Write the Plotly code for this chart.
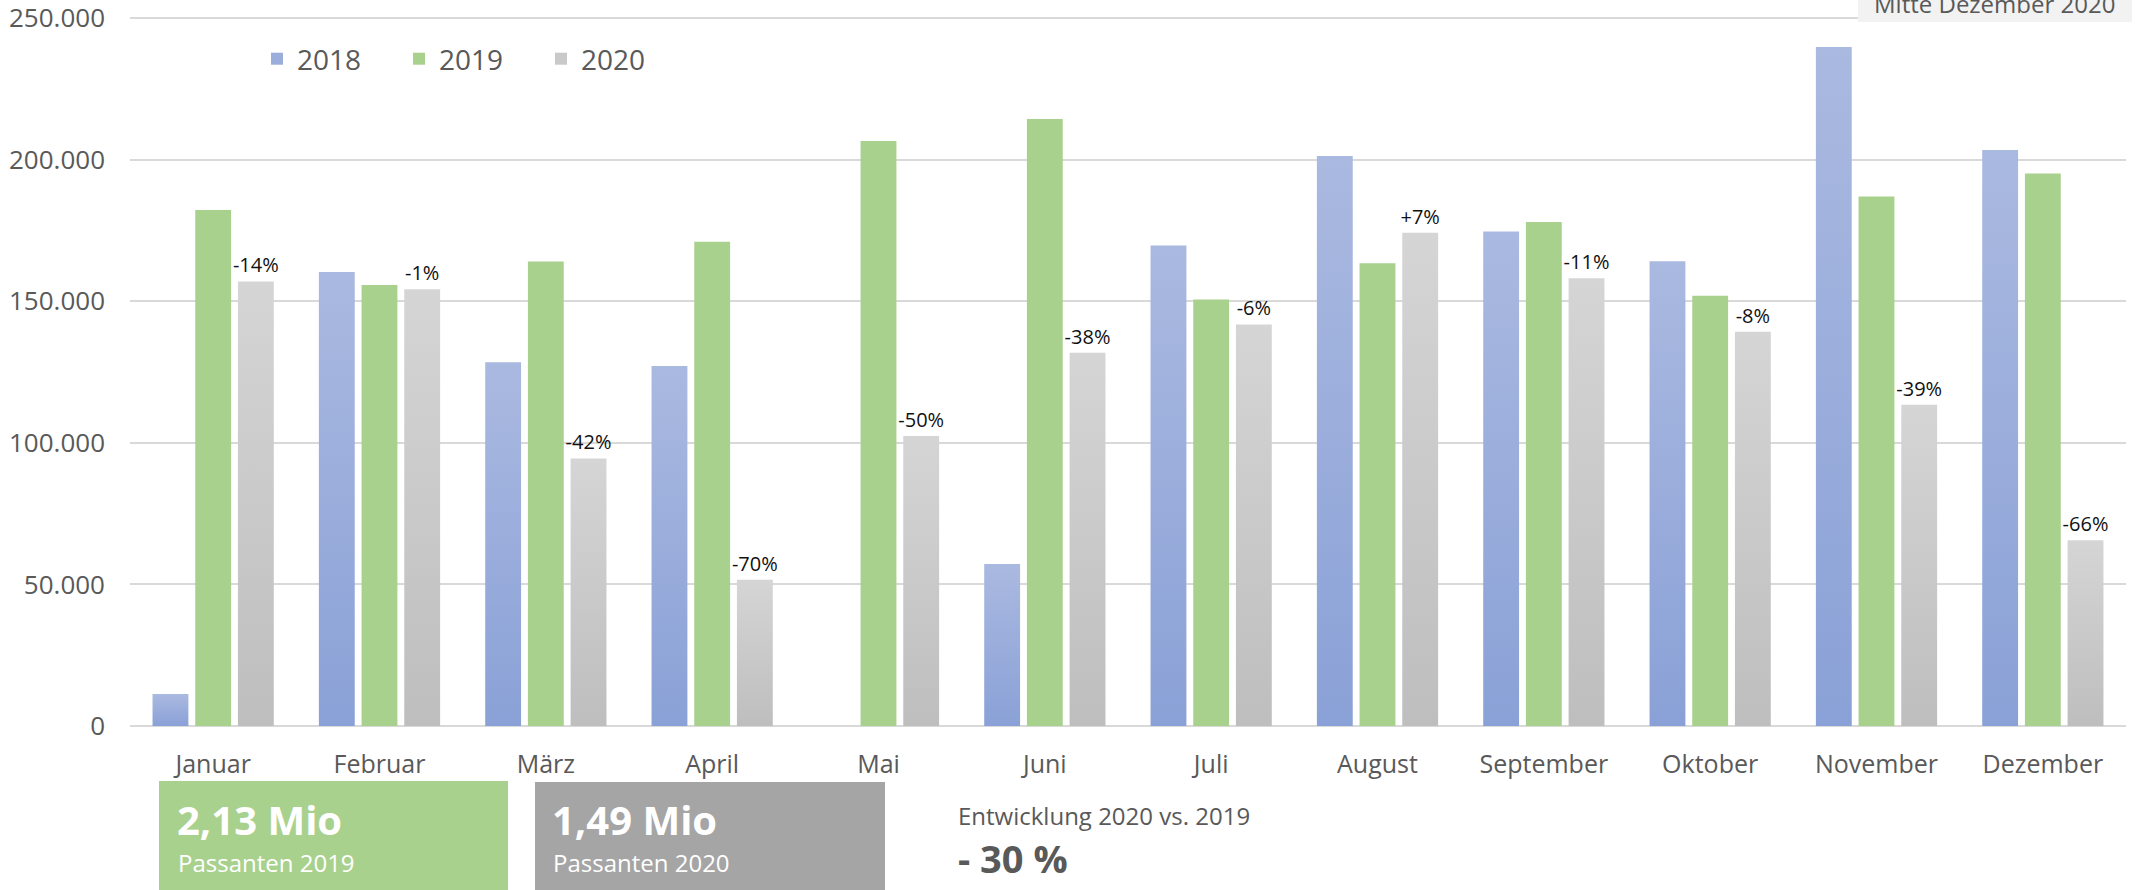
import plotly.graph_objects as go

months = ["Januar", "Februar", "März", "April", "Mai", "Juni",
          "Juli", "August", "September", "Oktober", "November", "Dezember"]

passanten_2018 = [11300, 160300, 128400, 127100, None, 57200,
                  169700, 201300, 174600, 164100, 239800, 203400]
passanten_2019 = [182200, 155700, 164000, 171000, 206600, 214300,
                  150600, 163400, 178000, 151900, 187000, 195100]
passanten_2020 = [157000, 154200, 94500, 51600, 102400, 131800,
                  141800, 174200, 158100, 139200, 113400, 65600]
change_labels = ["-14%", "-1%", "-42%", "-70%", "-50%", "-38%",
                 "-6%", "+7%", "-11%", "-8%", "-39%", "-66%"]

y_ticks = [0, 50000, 100000, 150000, 200000, 250000]

# plot area in pixels (page is 2136 x 890)
W, H = 2136, 890
L, R, T, B = 130, 2126, 14, 726
Y_TOP_PX = 18  # where 250.000 sits
y_max = y_ticks[-1] * (B - T) / (B - Y_TOP_PX)


def px_x(x):
    return (x - L) / (R - L)


def px_y(y):
    return (B - y) / (B - T)


_font = "Open Sans"
_text_gray = "#595959"
_grid = "#D9D9D9"

fig = go.Figure()

fig.add_trace(go.Bar(x=months, y=passanten_2018, name="2018",
                     marker=dict(color="#9AADDB", line=dict(width=0))))
fig.add_trace(go.Bar(x=months, y=passanten_2019, name="2019",
                     marker=dict(color="#A9D18E", line=dict(width=0))))
fig.add_trace(go.Bar(x=months, y=passanten_2020, name="2020",
                     marker=dict(color="#C9C9C9", line=dict(width=0)),
                     text=change_labels, textposition="outside",
                     constraintext="none",
                     textfont=dict(family=_font, size=20, color="#111111"),
                     cliponaxis=False))

fig.update_layout(
    width=W,
    height=H,
    margin=dict(l=L, r=W - R, t=T, b=H - B, pad=0),
    paper_bgcolor="white",
    plot_bgcolor="white",
    barmode="group",
    bargap=0.23,
    bargroupgap=0.16,
    separators=",.",
    font=dict(family=_font, color=_text_gray),
    showlegend=True,
    legend=dict(orientation="h", x=px_x(257), xanchor="left",
                y=px_y(59), yanchor="middle",
                font=dict(family=_font, size=28, color=_text_gray),
                entrywidth=97, entrywidthmode="pixels",
                bgcolor="rgba(0,0,0,0)"),
    xaxis=dict(showgrid=False, showline=False, ticks="", automargin=False,
               tickfont=dict(family=_font, size=25, color=_text_gray),
               ticklabelstandoff=21, fixedrange=True),
    yaxis=dict(range=[0, y_max], tickvals=y_ticks, tickformat=",",
               automargin=False, ticklabeloverflow="allow",
               showgrid=True, gridcolor=_grid, gridwidth=2,
               zeroline=True, zerolinecolor=_grid, zerolinewidth=2,
               showline=False, ticks="",
               tickfont=dict(family=_font, size=26, color=_text_gray),
               ticklabelstandoff=24, fixedrange=True),
)

shapes = [
    # KPI boxes below the chart
    dict(type="rect", xref="paper", yref="paper", layer="above",
         x0=px_x(159), x1=px_x(508), y0=px_y(900), y1=px_y(781),
         fillcolor="#A9D18E", line=dict(width=0)),
    dict(type="rect", xref="paper", yref="paper", layer="above",
         x0=px_x(535), x1=px_x(885), y0=px_y(900), y1=px_y(782),
         fillcolor="#A5A5A5", line=dict(width=0)),
    # "Mitte Dezember 2020" box, cut at the top edge
    dict(type="rect", xref="paper", yref="paper", layer="above",
         x0=px_x(1858), x1=px_x(2132), y0=px_y(22), y1=px_y(-30),
         fillcolor="#F2F2F2", line=dict(width=0)),
]

annotations = [
    dict(text="<b>2,13 Mio</b>", x=px_x(175), y=px_y(819),
         font=dict(family=_font, size=40, color="white")),
    dict(text="Passanten 2019", x=px_x(176), y=px_y(862),
         font=dict(family=_font, size=24, color="white")),
    dict(text="<b>1,49 Mio</b>", x=px_x(550), y=px_y(819),
         font=dict(family=_font, size=40, color="white")),
    dict(text="Passanten 2020", x=px_x(551), y=px_y(862),
         font=dict(family=_font, size=24, color="white")),
    dict(text="Entwicklung 2020 vs. 2019", x=px_x(956), y=px_y(815),
         font=dict(family=_font, size=24, color=_text_gray)),
    dict(text="<b>- 30 %</b>", x=px_x(956), y=px_y(858),
         font=dict(family=_font, size=38, color=_text_gray)),
    dict(text="Mitte Dezember 2020", x=px_x(1872), y=px_y(4),
         font=dict(family=_font, size=24, color=_text_gray)),
]
for a in annotations:
    a.update(xref="paper", yref="paper", xanchor="left", yanchor="middle",
             showarrow=False, align="left")

fig.update_layout(shapes=shapes, annotations=annotations)

# no page margin, plus vertical gradients like the original office chart
gradient_js = """
document.body.style.margin = '0';
var gd = document.getElementById('{plot_id}');
var ns = 'http://www.w3.org/2000/svg';
var svg = gd.querySelector('.main-svg');
var defs = document.createElementNS(ns, 'defs');
[['g2018', '#AAB9E0', '#8AA1D7'], ['g2020', '#D5D5D5', '#BEBEBE']].forEach(function(g) {
  var lg = document.createElementNS(ns, 'linearGradient');
  lg.setAttribute('id', g[0]);
  lg.setAttribute('x1', '0'); lg.setAttribute('y1', '0');
  lg.setAttribute('x2', '0'); lg.setAttribute('y2', '1');
  [['0', g[1]], ['1', g[2]]].forEach(function(s) {
    var st = document.createElementNS(ns, 'stop');
    st.setAttribute('offset', s[0]);
    st.setAttribute('stop-color', s[1]);
    lg.appendChild(st);
  });
  defs.appendChild(lg);
});
svg.insertBefore(defs, svg.firstChild);
var bars = gd.querySelectorAll('.barlayer .trace');
var fills = {0: 'url(#g2018)', 2: 'url(#g2020)'};
Object.keys(fills).forEach(function(i) {
  if (bars[i]) bars[i].querySelectorAll('path').forEach(function(p) { p.style.fill = fills[i]; });
});
"""

fig.write_html("out.html", post_script=gradient_js, config={"displayModeBar": False})
